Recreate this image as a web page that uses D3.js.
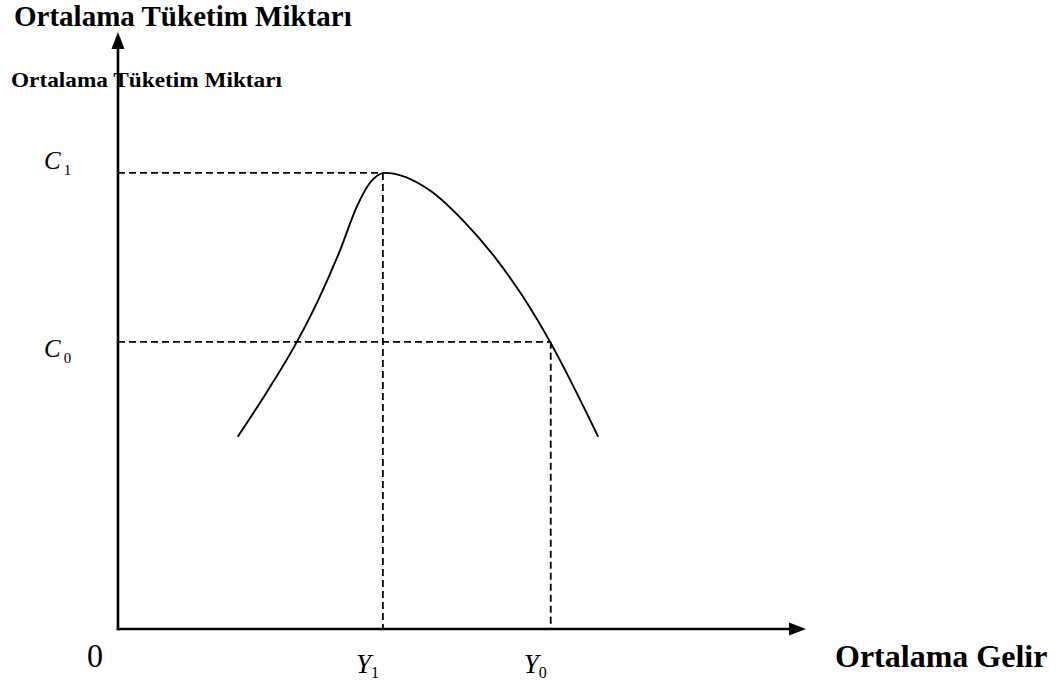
<!DOCTYPE html>
<html><head><meta charset="utf-8">
<script src="https://cdn.jsdelivr.net/npm/d3@7"></script>
<style>
body{margin:0;background:#fff}
svg{display:block}
text{font-family:"Liberation Serif","Times New Roman",serif;fill:#000}
</style></head>
<body><svg id="c" width="1059" height="688"></svg>
<script>
// Curve points (income, consumption) in chart units
const curveX = [17.4, 21.8, 26.0, 29.1, 32.3, 34.7, 36.6, 38.8, 45.3, 50.1, 55.1, 58.9, 62.8, 69.8];
const curveY = [32.2, 40.0, 48.1, 55.1, 63.5, 70.7, 74.7, 76.4, 73.5, 68.5, 61.8, 55.6, 48.1, 32.2];
// Reference levels
const levelNames = ["1", "0"];
const incomeLevels = [38.5, 62.9];   // Y1, Y0
const consLevels = [76.4, 48.1];     // C1, C0
const yTitle = "Ortalama Tüketim Miktarı";
const xTitle = "Ortalama Gelir";
const originLabel = "0";

const svg = d3.select("#c");
const x = d3.scaleLinear().domain([0, 100]).range([118, 806]);
const y = d3.scaleLinear().domain([0, 100]).range([629, 32]);

// dashed guides
const g = svg.append("g");
levelNames.forEach((n, i) => {
  g.append("line").attr("x1", x(0)).attr("x2", x(incomeLevels[i]))
    .attr("y1", y(consLevels[i])).attr("y2", y(consLevels[i]))
    .attr("stroke", "#000").attr("stroke-width", 1.8).attr("stroke-dasharray", "7,4");
  g.append("line").attr("x1", x(incomeLevels[i])).attr("x2", x(incomeLevels[i]))
    .attr("y1", y(consLevels[i])).attr("y2", y(0))
    .attr("stroke", "#000").attr("stroke-width", 1.8).attr("stroke-dasharray", "7,4");
});

// curve
const pts = curveX.map((v, i) => [v, curveY[i]]);
svg.append("path").datum(pts)
  .attr("d", d3.line().x(d => x(d[0])).y(d => y(d[1])).curve(d3.curveMonotoneX))
  .attr("fill", "none").attr("stroke", "#000").attr("stroke-width", 1.9);

// axes
const xAxis = d3.axisBottom(x).tickValues([]).tickSizeOuter(0);
const yAxis = d3.axisLeft(y).tickValues([]).tickSizeOuter(0);
const ax = svg.append("g").attr("transform", `translate(0,${y(0)})`).call(xAxis);
const ay = svg.append("g").attr("transform", `translate(${x(0)},0)`).call(yAxis);
ax.select(".domain").attr("d", `M${x(0) - 1.3},0H${x(100) - 14}`).attr("stroke", "#000").attr("stroke-width", 2.6);
ay.select(".domain").attr("d", `M0,${y(0) + 1.3}V${y(100) + 14}`).attr("stroke", "#000").attr("stroke-width", 2.6);
// arrowheads
svg.append("path").attr("d", `M${x(100)},${y(0)}L${x(100) - 17},${y(0) - 6.5}L${x(100) - 17},${y(0) + 6.5}Z`).attr("fill", "#000");
svg.append("path").attr("d", `M${x(0)},${y(100)}L${x(0) - 6.5},${y(100) + 17}L${x(0) + 6.5},${y(100) + 17}Z`).attr("fill", "#000");

// titles
svg.append("text").attr("x", 14).attr("y", 26).attr("font-weight", "bold").attr("font-size", 29).text(yTitle);
svg.append("text").attr("x", 11).attr("y", 87).attr("font-weight", "bold").attr("font-size", 22)
  .attr("textLength", 271).attr("lengthAdjust", "spacingAndGlyphs").text(yTitle);
svg.append("text").attr("x", 835).attr("y", 667).attr("font-weight", "bold").attr("font-size", 32).text(xTitle);
svg.append("text").attr("x", 87).attr("y", 667).attr("font-size", 33)
  .attr("textLength", 16).attr("lengthAdjust", "spacingAndGlyphs").text(originLabel);

// level labels
levelNames.forEach((n, i) => {
  const tc = svg.append("text").attr("x", 44).attr("y", y(consLevels[i]) - 4 + (i === 1 ? 19 : 0));
  tc.append("tspan").attr("font-style", "italic").attr("font-size", 25).text("C");
  tc.append("tspan").attr("font-size", 15).attr("dx", 3).attr("dy", 6).text(n);
  const ty = svg.append("text").attr("x", x(incomeLevels[i]) - 27).attr("y", 673);
  ty.append("tspan").attr("font-style", "italic").attr("font-size", 27).text("Y");
  ty.append("tspan").attr("font-size", 16).attr("dy", 5).text(n);
});
</script></body></html>
